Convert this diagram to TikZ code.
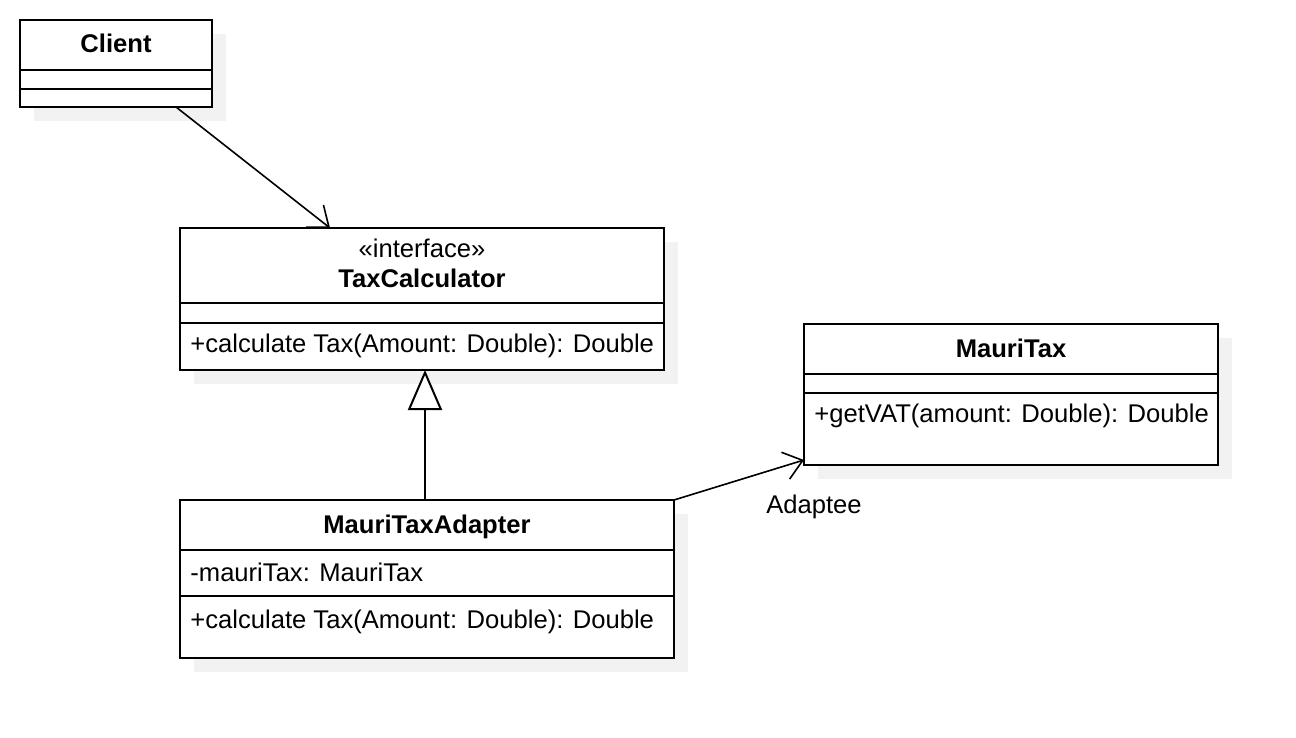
\documentclass[tikz,border=0pt]{standalone}
\usepackage{fontspec}
\setmainfont{Liberation Sans}
\usetikzlibrary{arrows.meta,calc}
\begin{document}
\begin{tikzpicture}[x=0.5pt,y=-0.5pt,
  box/.style={draw=black,line width=1pt,fill=white,anchor=north west,inner sep=0pt,outer sep=0pt},
  shadowc/.style={fill=black!5},
  txt/.style={font=\fontsize{12.8}{15}\selectfont,inner sep=0pt,anchor=base},
  ttl/.style={txt,font=\fontsize{12.8}{15}\selectfont\bfseries},
  mem/.style={txt,anchor=base west},
  divider/.style={line width=1pt},
  conn/.style={line width=0.8pt},
  barb/.style={-{Straight Barb[length=9pt,width=14pt,line width=0.8pt]}},
  realize/.style={-{Triangle[open,length=20pt,width=17pt,fill=white,line width=1pt]}},
]
\useasboundingbox (0,0) rectangle (1296,738);
% shadows
\fill[shadowc] (34,34) rectangle (226,121);
\fill[shadowc] (194,242) rectangle (678,384);
\fill[shadowc] (818,338) rectangle (1232,479);
\fill[shadowc] (194,514) rectangle (688,672);
% Client
\node[box,minimum width=96pt,minimum height=43.5pt] (client) at (20,20) {};
\draw[divider] (client.west |- 0,70) -- (client.east |- 0,70);
\draw[divider] (client.west |- 0,89) -- (client.east |- 0,89);
\node[ttl] (clientname) at (116,53) {Client};
% TaxCalculator
\node[box,minimum width=242pt,minimum height=71pt] (tax) at (180,228) {};
\draw[divider] (tax.west |- 0,303) -- (tax.east |- 0,303);
\draw[divider] (tax.west |- 0,323) -- (tax.east |- 0,323);
\node[txt] (taxst) at (422,257) {«interface»};
\node[ttl] (taxname) at (422,287) {TaxCalculator};
\node[mem] (taxop) at (190,352) {+calculate Tax(Amount: Double): Double};
% MauriTax
\node[box,minimum width=207pt,minimum height=70.5pt] (mauri) at (804,324) {};
\draw[divider] (mauri.west |- 0,374) -- (mauri.east |- 0,374);
\draw[divider] (mauri.west |- 0,393) -- (mauri.east |- 0,393);
\node[ttl] (mauriname) at (1011,357) {MauriTax};
\node[mem] (mauriop) at (814,422) {+getVAT(amount: Double): Double};
% MauriTaxAdapter
\node[box,minimum width=247pt,minimum height=79pt] (adapter) at (180,500) {};
\draw[divider] (adapter.west |- 0,550) -- (adapter.east |- 0,550);
\draw[divider] (adapter.west |- 0,596) -- (adapter.east |- 0,596);
\node[ttl] (adaptername) at (427,533) {MauriTaxAdapter};
\node[mem] (adapterattr) at (190,581) {-mauriTax: MauriTax};
\node[mem] (adapterop) at (190,628) {+calculate Tax(Amount: Double): Double};
% connectors
\draw[conn,barb] ([xshift=78pt]client.south west) -- ([xshift=75pt]tax.north west);
\draw[conn,realize] ([xshift=122.5pt]adapter.north west) -- ([xshift=122.5pt]tax.south west);
\draw[conn,barb] (adapter.north east) -- ([yshift=2.5pt]mauri.south west);
\node[txt] (adaptee) at (814,513) {Adaptee};
\end{tikzpicture}
\end{document}
